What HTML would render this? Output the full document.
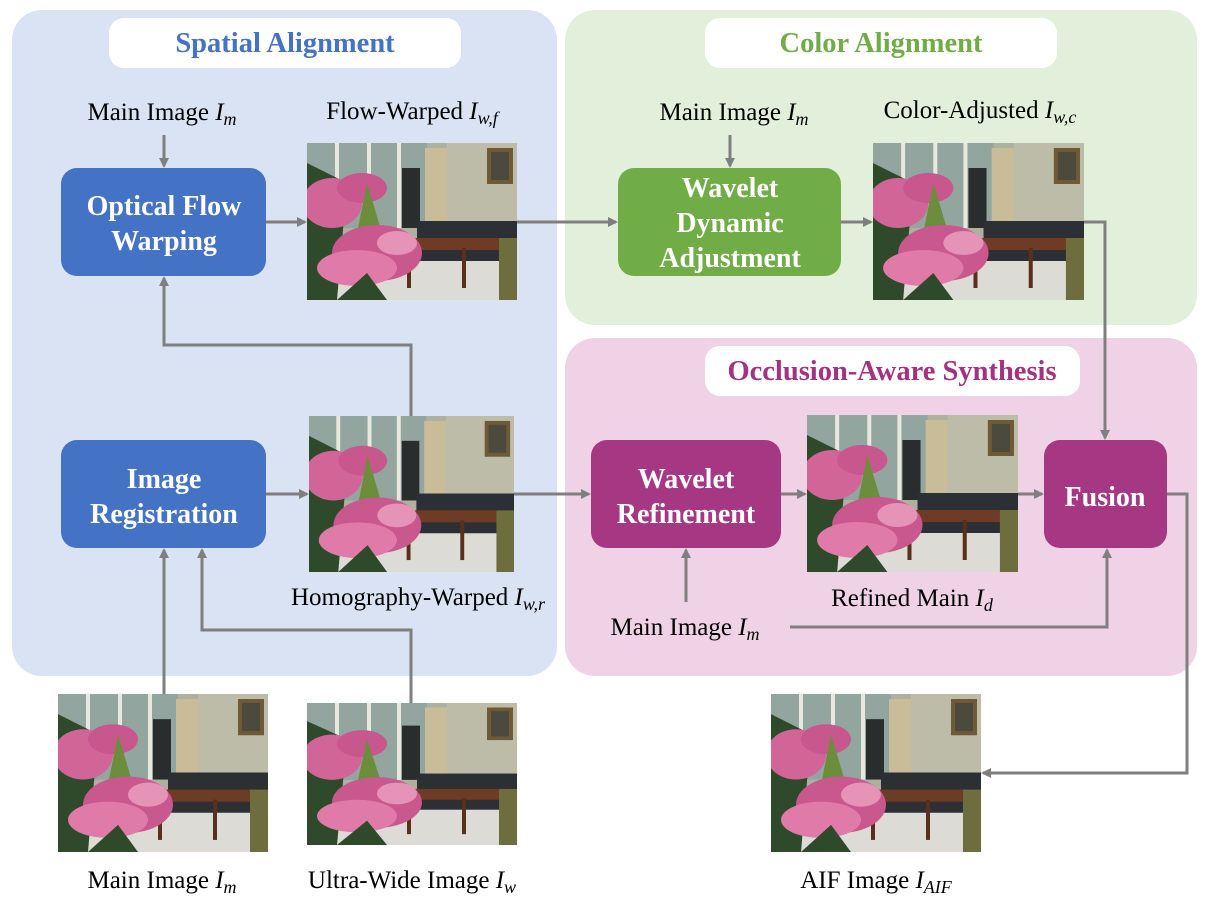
<!DOCTYPE html>
<html><head><meta charset="utf-8"><style>
html,body{margin:0;padding:0;background:#fff}
svg{display:block}
.lb{font-family:"Liberation Serif",serif;font-size:25px;fill:#000}
.bx{font-family:"Liberation Serif",serif;font-size:28px;font-weight:bold;fill:#fff}
.tt{font-family:"Liberation Serif",serif;font-size:28.5px;font-weight:bold}
</style></head><body>
<svg width="1209" height="902" viewBox="0 0 1209 902" xmlns="http://www.w3.org/2000/svg">
<defs>
<marker id="ar" markerWidth="10" markerHeight="10" refX="8" refY="5" orient="auto" markerUnits="userSpaceOnUse">
<path d="M0,0 L10,5 L0,10 z" fill="#7f7f7f"/></marker>
<symbol id="ph" viewBox="0 0 210 157" preserveAspectRatio="none">
<rect width="210" height="157" fill="#aeb0a0"/>
<rect x="0" y="0" width="120" height="85" fill="#93a59f"/>
<rect x="28" y="0" width="4" height="85" fill="#e8e8e0"/>
<rect x="60" y="0" width="4" height="85" fill="#e8e8e0"/>
<rect x="90" y="0" width="4" height="85" fill="#e8e8e0"/>
<rect x="95" y="25" width="18" height="60" fill="#2a2d2e"/>
<rect x="118" y="5" width="22" height="85" fill="#c9bc98"/>
<rect x="140" y="0" width="70" height="85" fill="#bcbca8"/>
<rect x="180" y="5" width="26" height="36" fill="#6e5a36"/>
<rect x="184" y="9" width="18" height="28" fill="#4b4a3c"/>
<rect x="0" y="110" width="210" height="47" fill="#dcdbd5"/>
<rect x="110" y="78" width="100" height="40" fill="#2c3035"/>
<rect x="85" y="95" width="110" height="12" fill="#6e3c24"/>
<rect x="100" y="105" width="4" height="40" fill="#5a2f1c"/>
<rect x="155" y="105" width="4" height="40" fill="#5a2f1c"/>
<rect x="192" y="95" width="18" height="62" fill="#6d6d3e"/>
<path d="M0,20 L40,40 L30,157 L0,157 z" fill="#2f4a2a"/>
<ellipse cx="25" cy="60" rx="30" ry="25" fill="#d16598"/>
<ellipse cx="55" cy="45" rx="25" ry="15" fill="#c8578e"/>
<path d="M60,40 L75,90 L50,90 z" fill="#6c8e3c"/>
<ellipse cx="70" cy="110" rx="45" ry="28" fill="#c9588e"/>
<ellipse cx="50" cy="125" rx="40" ry="18" fill="#e07aa8"/>
<ellipse cx="90" cy="100" rx="20" ry="12" fill="#e693b8"/>
<path d="M30,157 L60,130 L80,157 z" fill="#2f4a2a"/>
</symbol>
</defs>

<rect x="12" y="10" width="545" height="666" rx="30" fill="#dae3f3"/>
<rect x="565" y="10" width="632" height="315" rx="30" fill="#e2efda"/>
<rect x="565" y="338" width="632" height="338" rx="30" fill="#f0d2e6"/>

<rect x="109" y="18" width="352" height="50" rx="15" fill="#fff"/>
<text x="285" y="52" text-anchor="middle" class="tt" fill="#4472c4">Spatial Alignment</text>
<rect x="705" y="18" width="352" height="50" rx="15" fill="#fff"/>
<text x="881" y="52" text-anchor="middle" class="tt" fill="#70ad47">Color Alignment</text>
<rect x="705" y="346" width="375" height="50" rx="15" fill="#fff"/>
<text x="892" y="380" text-anchor="middle" class="tt" fill="#a3327f">Occlusion-Aware Synthesis</text>

<rect x="61" y="168" width="205" height="108" rx="16" fill="#4472c4"/>
<text x="164" y="215" text-anchor="middle" class="bx">Optical Flow</text>
<text x="164" y="250" text-anchor="middle" class="bx">Warping</text>
<rect x="61" y="440" width="205" height="108" rx="16" fill="#4472c4"/>
<text x="164" y="488" text-anchor="middle" class="bx">Image</text>
<text x="164" y="523" text-anchor="middle" class="bx">Registration</text>
<rect x="618" y="168" width="223" height="108" rx="16" fill="#70ad47"/>
<text x="730" y="197" text-anchor="middle" class="bx">Wavelet</text>
<text x="730" y="232" text-anchor="middle" class="bx">Dynamic</text>
<text x="730" y="267" text-anchor="middle" class="bx">Adjustment</text>
<rect x="591" y="440" width="190" height="108" rx="16" fill="#a63883"/>
<text x="686" y="488" text-anchor="middle" class="bx">Wavelet</text>
<text x="686" y="523" text-anchor="middle" class="bx">Refinement</text>
<rect x="1044" y="440" width="123" height="108" rx="16" fill="#a63883"/>
<text x="1105" y="506" text-anchor="middle" class="bx">Fusion</text>

<use href="#ph" x="307" y="143" width="210" height="157"/>
<use href="#ph" x="309" y="416" width="205" height="156"/>
<use href="#ph" x="873" y="143" width="211" height="157"/>
<use href="#ph" x="807" y="415" width="211" height="157"/>
<use href="#ph" x="58" y="694" width="210" height="158"/>
<use href="#ph" x="307" y="703" width="210" height="142"/>
<use href="#ph" x="771" y="694" width="210" height="158"/>

<g stroke="#7f7f7f" stroke-width="3" fill="none" marker-end="url(#ar)">
<path d="M164,135 L164,166"/>
<path d="M266,222 L305,222"/>
<path d="M517,222 L616,222"/>
<path d="M730,135 L730,166"/>
<path d="M841,222 L871,222"/>
<path d="M1084,222 L1105,222 L1105,438"/>
<path d="M411,416 L411,345 L164,345 L164,278"/>
<path d="M266,494 L307,494"/>
<path d="M514,494 L589,494"/>
<path d="M781,494 L805,494"/>
<path d="M1018,494 L1042,494"/>
<path d="M686,602 L686,550"/>
<path d="M790,627 L1107,627 L1107,550"/>
<path d="M1167,494 L1187,494 L1187,773 L983,773"/>
<path d="M164,694 L164,550"/>
<path d="M411,703 L411,630 L202,630 L202,550"/>
</g>

<text x="162" y="120" text-anchor="middle" class="lb">Main Image <tspan font-style="italic">I</tspan><tspan font-style="italic" font-size="18" dy="5">m</tspan></text>
<text x="412" y="119" text-anchor="middle" class="lb">Flow-Warped <tspan font-style="italic">I</tspan><tspan font-style="italic" font-size="18" dy="5">w,f</tspan></text>
<text x="734" y="120" text-anchor="middle" class="lb">Main Image <tspan font-style="italic">I</tspan><tspan font-style="italic" font-size="18" dy="5">m</tspan></text>
<text x="980" y="118" text-anchor="middle" class="lb">Color-Adjusted <tspan font-style="italic">I</tspan><tspan font-style="italic" font-size="18" dy="5">w,c</tspan></text>
<text x="418" y="605" text-anchor="middle" class="lb">Homography-Warped <tspan font-style="italic">I</tspan><tspan font-style="italic" font-size="18" dy="5">w,r</tspan></text>
<text x="912" y="606" text-anchor="middle" class="lb">Refined Main <tspan font-style="italic">I</tspan><tspan font-style="italic" font-size="18" dy="5">d</tspan></text>
<text x="685" y="635" text-anchor="middle" class="lb">Main Image <tspan font-style="italic">I</tspan><tspan font-style="italic" font-size="18" dy="5">m</tspan></text>
<text x="162" y="888" text-anchor="middle" class="lb">Main Image <tspan font-style="italic">I</tspan><tspan font-style="italic" font-size="18" dy="5">m</tspan></text>
<text x="412" y="888" text-anchor="middle" class="lb">Ultra-Wide Image <tspan font-style="italic">I</tspan><tspan font-style="italic" font-size="18" dy="5">w</tspan></text>
<text x="876" y="888" text-anchor="middle" class="lb">AIF Image <tspan font-style="italic">I</tspan><tspan font-style="italic" font-size="18" dy="5">AIF</tspan></text>
</svg>
</body></html>
